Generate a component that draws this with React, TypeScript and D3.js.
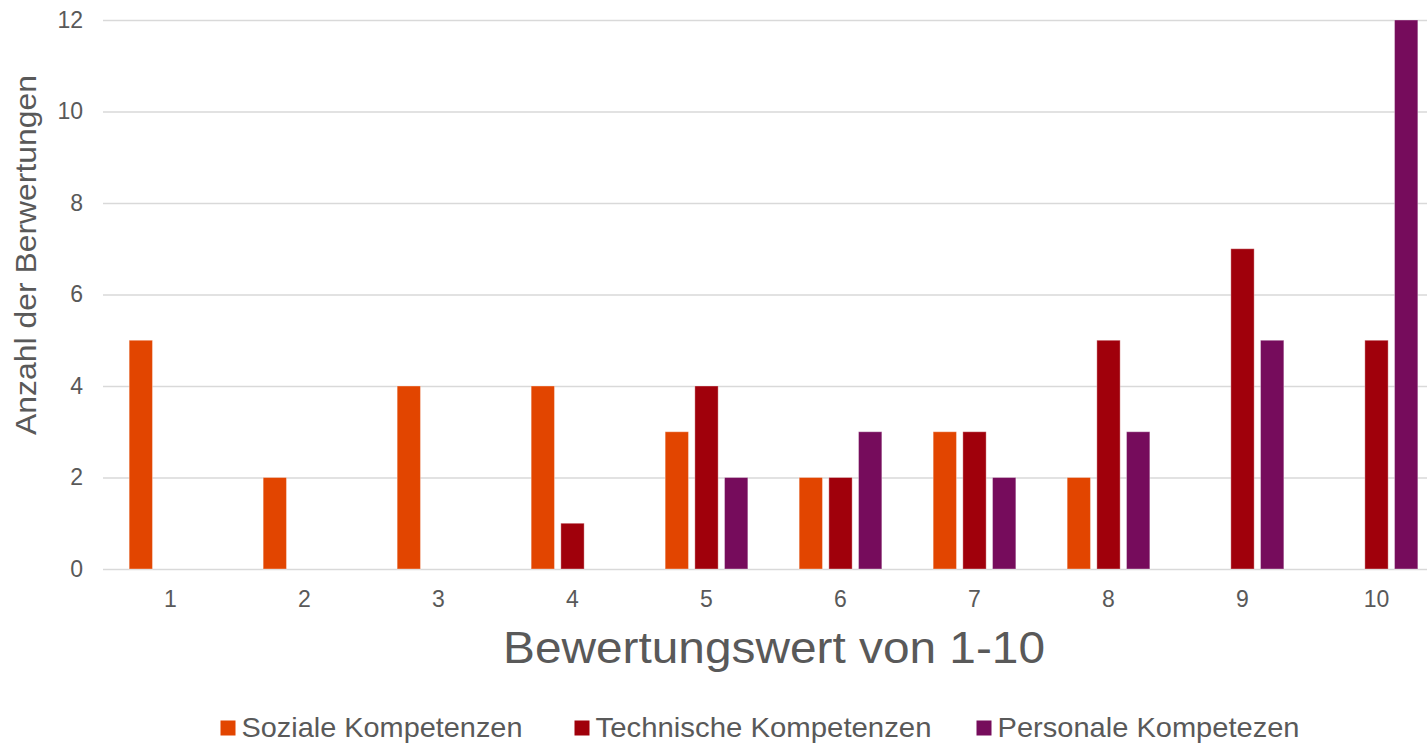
import React, { useEffect, useRef } from 'react';
import { select, scaleBand, scaleLinear, axisLeft, axisBottom } from 'd3';

const categories = ['1', '2', '3', '4', '5', '6', '7', '8', '9', '10'];
const seriesNames = ['Soziale Kompetenzen', 'Technische Kompetenzen', 'Personale Kompetezen'];
const seriesColors = ['#E24500', '#A0000B', '#760C5C'];
const soziale = [5, 2, 4, 4, 3, 2, 3, 2, 0, 0];
const technische = [0, 0, 0, 1, 4, 2, 3, 5, 7, 5];
const personale = [0, 0, 0, 0, 2, 3, 2, 3, 5, 12];
const yTicks = [0, 2, 4, 6, 8, 10, 12];

const W = 1427;
const H = 744;
const FONT = '"Liberation Sans", Arial, sans-serif';

const App = () => {
    const svgRef = useRef<SVGSVGElement>(null);

    useEffect(() => {
        const svg = select(svgRef.current);
        svg.selectAll('*').remove();

        const series = [soziale, technische, personale];

        const x = scaleBand()
            .domain(categories)
            .range([103.5, 1443.5])
            .paddingInner(0.383)
            .paddingOuter(0.1915);

        const inner = scaleBand()
            .domain(seriesNames)
            .range([0, x.bandwidth()])
            .paddingInner(0.215);

        const y = scaleLinear().domain([0, 12]).range([569, 20]);

        // gridlines + y ticks
        const yAxis = axisLeft(y)
            .tickValues(yTicks)
            .tickSize(-(W - 103))
            .tickPadding(20);
        const gy = svg.append('g')
            .attr('transform', 'translate(103,0)')
            .call(yAxis);
        gy.select('.domain').remove();
        gy.selectAll('.tick line').attr('stroke', '#d9d9d9').attr('stroke-width', 1.5);
        gy.selectAll('.tick text')
            .attr('fill', '#595959')
            .style('font-family', FONT)
            .style('font-size', '23px');

        const xAxis = axisBottom(x).tickSize(0).tickPadding(22);
        const gx = svg.append('g')
            .attr('transform', 'translate(0,569)')
            .call(xAxis);
        gx.select('.domain').remove();
        gx.selectAll('.tick text')
            .attr('fill', '#595959')
            .style('font-family', FONT)
            .style('font-size', '23px');

        // bars
        series.forEach((values, si) => {
            svg.append('g')
                .selectAll('rect')
                .data(values.map((v, i) => ({ cat: categories[i], v })).filter(d => d.v > 0))
                .join('rect')
                .attr('x', d => (x(d.cat) || 0) + (inner(seriesNames[si]) || 0))
                .attr('y', d => y(d.v))
                .attr('width', inner.bandwidth())
                .attr('height', d => y(0) - y(d.v))
                .attr('fill', seriesColors[si])
                .attr('stroke', 'rgba(255,255,255,0.35)')
                .attr('stroke-width', 1);
        });

        // axis titles
        svg.append('text')
            .attr('transform', 'translate(36,255) rotate(-90)')
            .attr('text-anchor', 'middle')
            .attr('fill', '#595959')
            .attr('textLength', 360)
            .attr('lengthAdjust', 'spacingAndGlyphs')
            .style('font-family', FONT)
            .style('font-size', '30px')
            .text('Anzahl der Berwertungen');

        svg.append('text')
            .attr('x', 774)
            .attr('y', 663)
            .attr('text-anchor', 'middle')
            .attr('fill', '#595959')
            .attr('textLength', 542)
            .attr('lengthAdjust', 'spacingAndGlyphs')
            .style('font-family', FONT)
            .style('font-size', '45px')
            .text('Bewertungswert von 1-10');

        // legend
        const legendX = [220.5, 574.5, 976.5];
        const legendLen = [281, 336, 302];
        const legend = svg.append('g');
        seriesNames.forEach((name, i) => {
            legend.append('rect')
                .attr('x', legendX[i])
                .attr('y', 720.5)
                .attr('width', 15)
                .attr('height', 15)
                .attr('fill', seriesColors[i]);
            legend.append('text')
                .attr('x', legendX[i] + 21)
                .attr('y', 737)
                .attr('fill', '#595959')
                .attr('textLength', legendLen[i])
                .attr('lengthAdjust', 'spacingAndGlyphs')
                .style('font-family', FONT)
                .style('font-size', '28px')
                .text(name);
        });
    }, []);

    return (
        <div style={{ position: 'fixed', left: 0, top: 0, width: W, height: H, overflow: 'hidden', background: '#fff' }}>
            <svg ref={svgRef} width={W} height={H} style={{ display: 'block' }} />
        </div>
    );
};

export default App;
